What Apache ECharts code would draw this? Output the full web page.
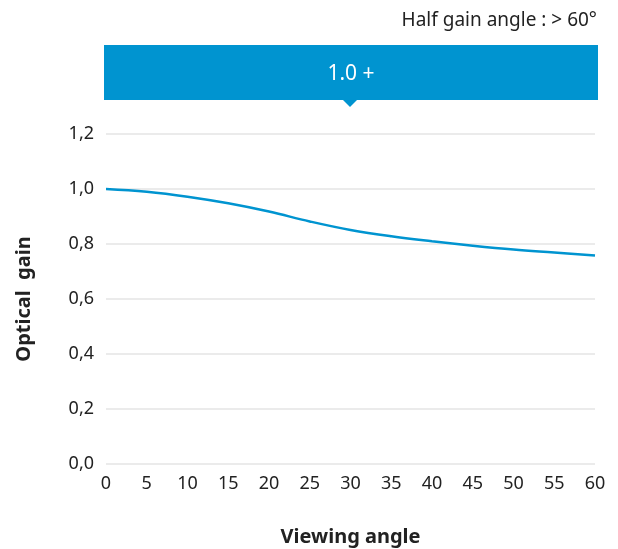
<!DOCTYPE html>
<html>
<head>
<meta charset="utf-8">
<script src="https://cdn.jsdelivr.net/npm/echarts@6/dist/echarts.min.js"></script>
<style>
html,body{margin:0;padding:0;background:#fff;}
#c{width:618px;height:549px;}
</style>
</head>
<body>
<div id="c"></div>
<script>
var angles = [0, 5, 10, 15, 20, 25, 30, 35, 40, 45, 50, 55, 60];
var gain = [1.0, 0.99, 0.972, 0.948, 0.918, 0.882, 0.851, 0.828, 0.81, 0.794, 0.78, 0.769, 0.758];
var yTicks = [0, 0.2, 0.4, 0.6, 0.8, 1.0, 1.2];
var bandLabel = '1.0 +';
var titleText = 'Half gain angle : > 60°';

var blue = '#0094d0';
var font = '"Noto Sans", "Open Sans", sans-serif';
var chart = echarts.init(document.getElementById('c'), null, {renderer: 'canvas'});
chart.setOption({
  animation: false,
  backgroundColor: '#fff',
  grid: {left: 106, right: 23, top: 134, bottom: 85, containLabel: false, outerBoundsMode: 'none'},
  graphic: [
    {type: 'text', right: 21, top: 11, style: {text: titleText, font: '19px ' + font, fill: '#222'}},
    {type: 'rect', shape: {x: 104, y: 45, width: 494, height: 55}, style: {fill: blue}},
    {type: 'polygon', shape: {points: [[342, 99], [358, 99], [350, 107]]}, style: {fill: blue}},
    {type: 'text', x: 351, y: 74, style: {text: bandLabel, font: '21px ' + font, fill: '#fff', align: 'center', verticalAlign: 'middle'}}
  ],
  xAxis: {
    type: 'value', min: 0, max: 60, interval: 5,
    name: 'Viewing angle', nameLocation: 'middle', nameGap: 63,
    nameTextStyle: {fontSize: 20, fontWeight: 'bold', color: '#222', fontFamily: font},
    axisLine: {show: false}, axisTick: {show: false}, splitLine: {show: false},
    axisLabel: {fontSize: 18, color: '#222', fontFamily: font, margin: 11}
  },
  yAxis: {
    type: 'value', min: 0, max: 1.2, interval: 0.2,
    name: 'Optical  gain', nameLocation: 'middle', nameGap: 72, nameRotate: 90,
    nameTextStyle: {fontSize: 20, fontWeight: 'bold', color: '#222', fontFamily: font},
    axisLine: {show: false}, axisTick: {show: false},
    splitLine: {lineStyle: {color: '#ebebeb', width: 2}},
    axisLabel: {fontSize: 18, color: '#222', fontFamily: font, margin: 12,
      formatter: function (v) { return v.toFixed(1).replace('.', ','); }}
  },
  series: [{
    type: 'line', smooth: 0.4, symbol: 'none',
    data: angles.map(function (a, i) { return [a, gain[i]]; }),
    lineStyle: {color: blue, width: 2.5}
  }]
});
</script>
</body>
</html>
